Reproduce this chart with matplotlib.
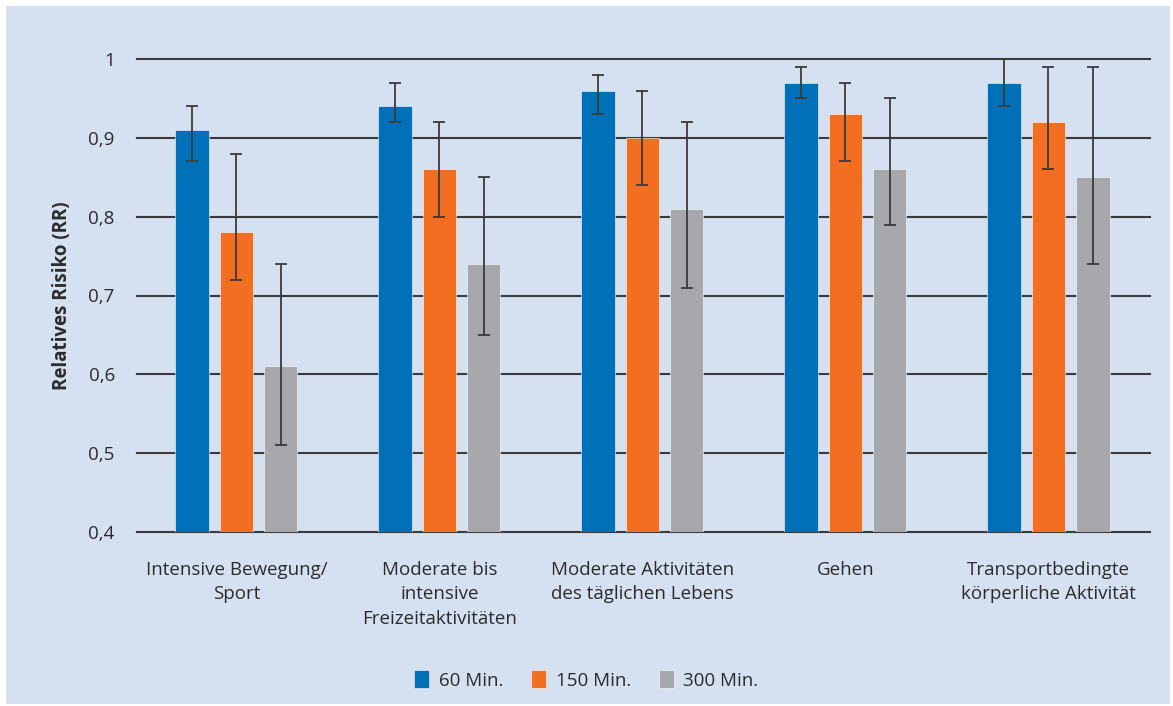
import numpy as np
import matplotlib.pyplot as plt
from matplotlib.patches import Rectangle
from matplotlib import font_manager

# chart data
categories = ['Intensive Bewegung/\nSport',
              'Moderate bis\nintensive\nFreizeitaktivitäten',
              'Moderate Aktivitäten\ndes täglichen Lebens',
              'Gehen',
              'Transportbedingte\nkörperliche Aktivität']
series = ['60 Min.', '150 Min.', '300 Min.']
rr_60 = [0.91, 0.94, 0.96, 0.97, 0.97]
lo_60 = [0.87, 0.92, 0.93, 0.95, 0.94]
hi_60 = [0.94, 0.97, 0.98, 0.99, 1.00]
rr_150 = [0.78, 0.86, 0.90, 0.93, 0.92]
lo_150 = [0.72, 0.80, 0.84, 0.87, 0.86]
hi_150 = [0.88, 0.92, 0.96, 0.97, 0.99]
rr_300 = [0.61, 0.74, 0.81, 0.86, 0.85]
lo_300 = [0.51, 0.65, 0.71, 0.79, 0.74]
hi_300 = [0.74, 0.85, 0.92, 0.95, 0.99]
yticks = [0.4, 0.5, 0.6, 0.7, 0.8, 0.9, 1.0]
ytick_labels = ['0,4', '0,5', '0,6', '0,7', '0,8', '0,9', '1']

colors = ['#0070b9', '#f26f22', '#a7a8ab']
bg = '#d5e0f1'
txt = '#2b2b2b'

names = {f.name for f in font_manager.fontManager.ttflist}
fam = 'Liberation Sans Narrow' if 'Liberation Sans Narrow' in names else 'Open Sans'
plt.rcParams['font.family'] = [fam, 'DejaVu Sans']

fig = plt.figure(figsize=(11.73, 7.06), dpi=100, facecolor='white')
fig.patches.append(Rectangle((6 / 1173, 2 / 706), 1164 / 1173, 698 / 706,
                             transform=fig.transFigure, facecolor=bg,
                             edgecolor='none', zorder=-10))
ax = fig.add_axes([137 / 1173, 1 - 532 / 706, (1150 - 137) / 1173, (532 - 59) / 706])
ax.set_facecolor('none')

x = np.arange(len(categories))
w = 0.167
off = 0.217
data = [(rr_60, lo_60, hi_60), (rr_150, lo_150, hi_150), (rr_300, lo_300, hi_300)]
for i, (rr, lo, hi) in enumerate(data):
    rr = np.array(rr)
    xs = x + (i - 1) * off
    ax.bar(xs, rr - 0.4, width=w, bottom=0.4, color=colors[i], label=series[i],
           edgecolor='white', linewidth=0.4, zorder=2)
    err = [rr - np.array(lo), np.array(hi) - rr]
    ax.errorbar(xs, rr, yerr=err, fmt='none', ecolor='#3a3a3a', elinewidth=1.3,
                capsize=4.5, capthick=1.3, zorder=3, clip_on=False)

ax.set_ylim(0.4, 1.0)
ax.set_xlim(-0.49, 4.5)
for y in yticks:
    ax.axhline(y, color='#3a3a3a', linewidth=1.5, zorder=1, clip_on=False)
ax.set_yticks(yticks)
ax.set_yticklabels(ytick_labels)
ax.set_xticks(x)
ax.set_xticklabels(categories, linespacing=1.45)
ax.tick_params(axis='y', length=0, pad=16, labelsize=13.5, labelcolor=txt)
ax.tick_params(axis='x', length=0, pad=21, labelsize=13.5, labelcolor=txt)
for s in ax.spines.values():
    s.set_visible(False)
ax.set_ylabel('Relatives Risiko (RR)', fontsize=13.5, fontweight='bold', color=txt, labelpad=12)

fig.legend(loc='center', bbox_to_anchor=(0.5, 1 - 680 / 706), ncol=3, frameon=False,
           handlelength=0.8, handleheight=1.05, handletextpad=0.5, columnspacing=1.5,
           fontsize=13.5, labelcolor=txt)

fig.savefig('out.png', dpi=100, facecolor='white')
